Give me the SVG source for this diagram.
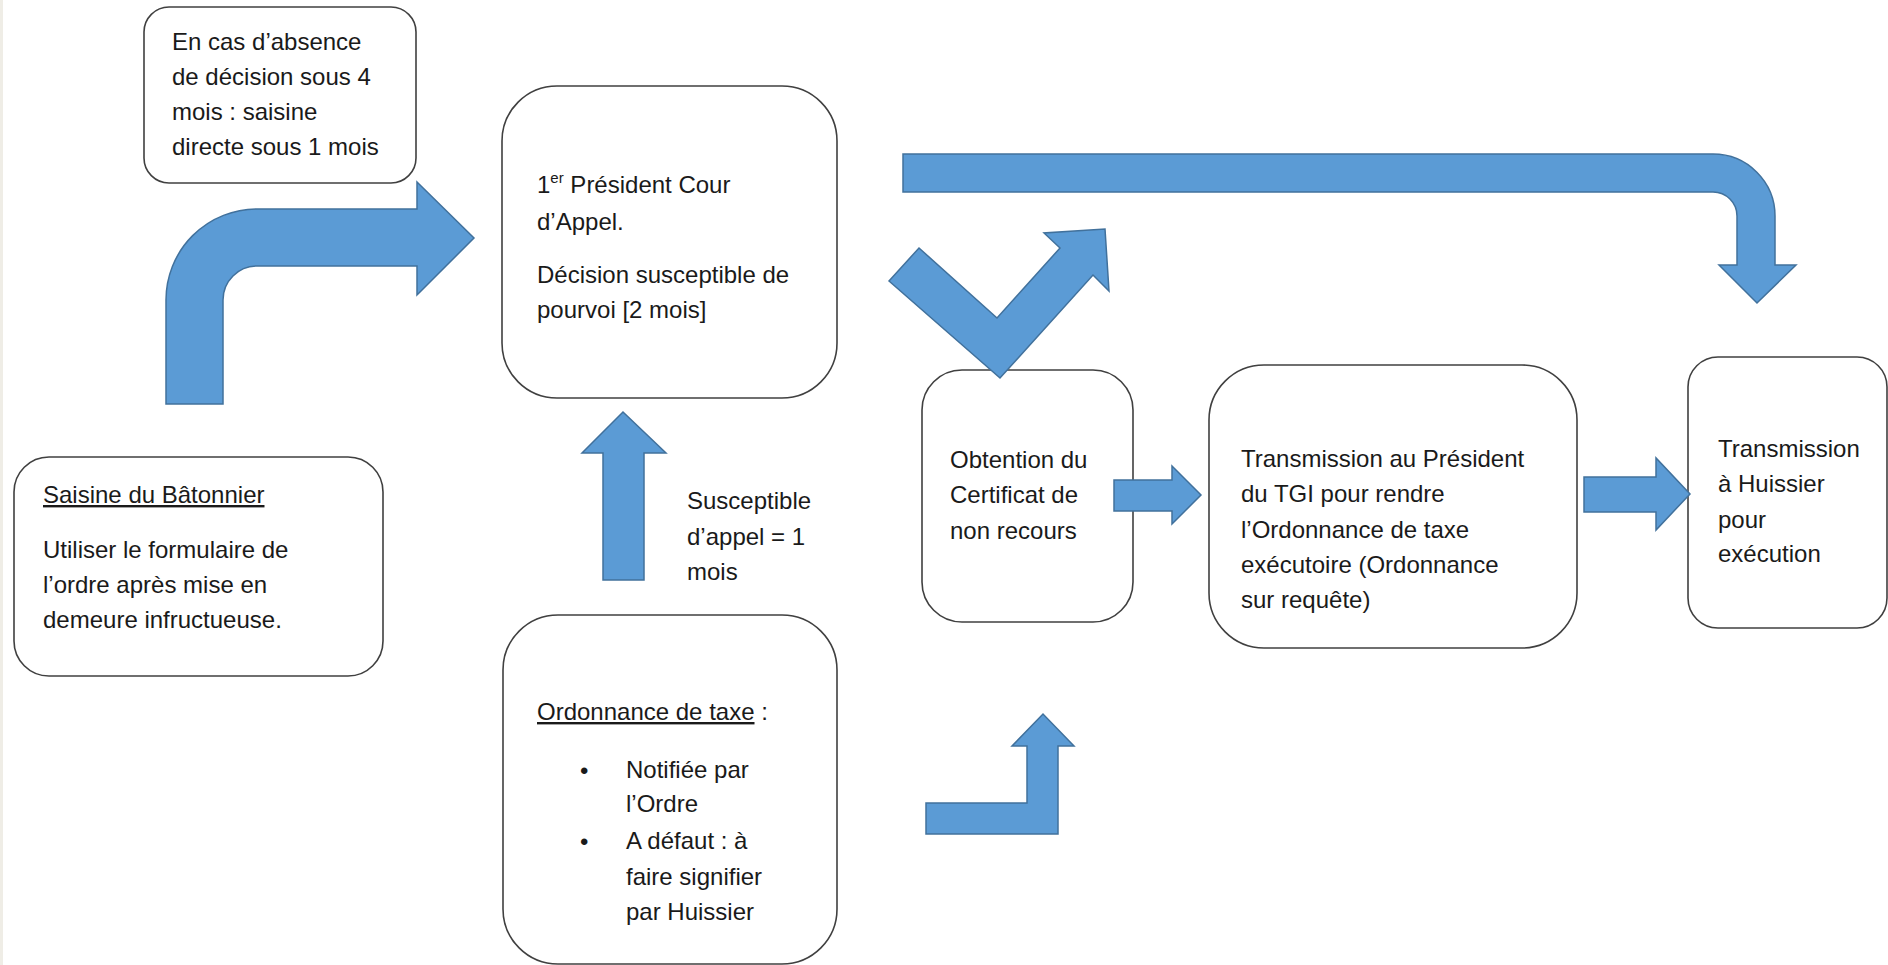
<svg xmlns="http://www.w3.org/2000/svg" width="1888" height="965" viewBox="0 0 1888 965">
<style>
.box{fill:#ffffff;stroke:#404040;stroke-width:1.6}
.arr{fill:#5b9bd5;stroke:#41719c;stroke-width:1.5;stroke-linejoin:miter}
text{font-family:"Liberation Sans",Arial,sans-serif;font-size:24px;fill:#1a1a1a}
.u{text-decoration:underline}
</style>
<rect x="0" y="0" width="1888" height="965" fill="#ffffff"/>
<rect x="0" y="0" width="3" height="965" fill="#efede6"/>
<g id="node-note">
<rect class="box" x="144" y="7" width="272" height="176" rx="25" ry="25"/>
<text x="172" y="50">En cas d’absence</text>
<text x="172" y="85">de décision sous 4</text>
<text x="172" y="120">mois : saisine</text>
<text x="172" y="155">directe sous 1 mois</text>
</g>
<g id="node-saisine">
<rect class="box" x="14" y="457" width="369" height="219" rx="35" ry="35"/>
<text x="43" y="503" class="u">Saisine du Bâtonnier</text>
<text x="43" y="558">Utiliser le formulaire de</text>
<text x="43" y="593">l’ordre après mise en</text>
<text x="43" y="628">demeure infructueuse.</text>
</g>
<g id="node-president">
<rect class="box" x="502" y="86" width="335" height="312" rx="55" ry="55"/>
<text x="537" y="193">1<tspan font-size="15" dy="-10">er</tspan><tspan dy="10"> Président Cour</tspan></text>
<text x="537" y="230">d’Appel.</text>
<text x="537" y="283">Décision susceptible de</text>
<text x="537" y="318">pourvoi [2 mois]</text>
</g>
<g id="node-ordonnance">
<rect class="box" x="503" y="615" width="334" height="349" rx="55" ry="55"/>
<text x="537" y="720"><tspan class="u">Ordonnance de taxe</tspan> :</text>
<text x="580" y="779" font-size="26">•</text>
<text x="626" y="778">Notifiée par</text>
<text x="626" y="812">l’Ordre</text>
<text x="580" y="850" font-size="26">•</text>
<text x="626" y="849">A défaut : à</text>
<text x="626" y="885">faire signifier</text>
<text x="626" y="920">par Huissier</text>
</g>
<g id="node-certificat">
<rect class="box" x="922" y="370" width="211" height="252" rx="40" ry="40"/>
<text x="950" y="468">Obtention du</text>
<text x="950" y="503">Certificat de</text>
<text x="950" y="539">non recours</text>
</g>
<g id="node-tgi">
<rect class="box" x="1209" y="365" width="368" height="283" rx="55" ry="55"/>
<text x="1241" y="467">Transmission au Président</text>
<text x="1241" y="502">du TGI pour rendre</text>
<text x="1241" y="538">l’Ordonnance de taxe</text>
<text x="1241" y="573">exécutoire (Ordonnance</text>
<text x="1241" y="608">sur requête)</text>
</g>
<g id="node-huissier">
<rect class="box" x="1688" y="357" width="199" height="271" rx="30" ry="30"/>
<text x="1718" y="457">Transmission</text>
<text x="1718" y="492">à Huissier</text>
<text x="1718" y="528">pour</text>
<text x="1718" y="562">exécution</text>
</g>
<g id="label-appel">
<text x="687" y="509">Susceptible</text>
<text x="687" y="545">d’appel = 1</text>
<text x="687" y="580">mois</text>
</g>
<g id="connectors">
<path class="arr" d="M166,404 L166,300 A91,91 0 0 1 257,209 L417,209 L417,182 L474,238 L417,295 L417,266 L257,266 A34,34 0 0 0 223,300 L223,404 Z"/>
<path class="arr" d="M903,154 L1713,154 A62,62 0 0 1 1775,216 L1775,265 L1796,265 L1757,303 L1719,265 L1737,265 L1737,216 A24,24 0 0 0 1713,192 L903,192 Z"/>
<path class="arr" d="M889,281 L919,248 L997,318 L1060,248 L1044,233 L1105,229 L1109,291 L1093,275 L1000,378 Z"/>
<path class="arr" d="M603,580 L603,453 L582,453 L623,412 L666,453 L644,453 L644,580 Z"/>
<path class="arr" d="M1114,480 L1172,480 L1172,466 L1201,495 L1172,524 L1172,511 L1114,511 Z"/>
<path class="arr" d="M1584,477 L1656,477 L1656,458 L1690,494 L1656,530 L1656,512 L1584,512 Z"/>
<path class="arr" d="M926,803 L1027,803 L1027,746 L1012,746 L1043,714 L1074,746 L1058,746 L1058,834 L926,834 Z"/>
</g>
</svg>
